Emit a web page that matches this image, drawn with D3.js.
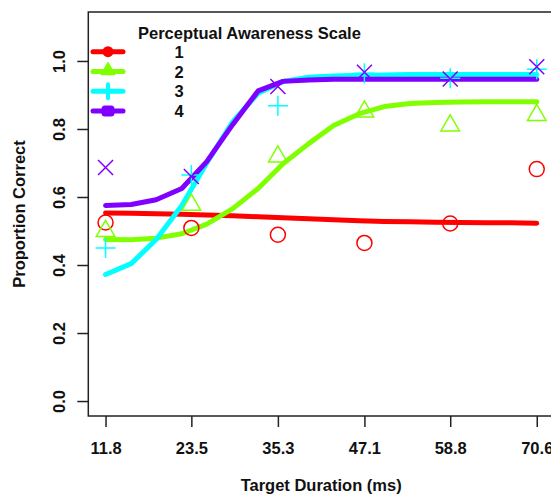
<!DOCTYPE html>
<html>
<head>
<meta charset="utf-8">
<script src="https://cdn.jsdelivr.net/npm/d3@7"></script>
<style>
  html, body { margin: 0; padding: 0; background: #fff; }
  svg { display: block; }
  text { font-family: "Liberation Sans", Arial, sans-serif; font-weight: bold; fill: #111; }
</style>
</head>
<body>
<script>
// ---- data ----
const durations = [11.8, 23.5, 35.3, 47.1, 58.8, 70.6];
const tickLabels = ["11.8", "23.5", "35.3", "47.1", "58.8", "70.6"];
const yTicks = [0.0, 0.2, 0.4, 0.6, 0.8, 1.0];
const pasLevels = ["1", "2", "3", "4"];
const colors = ["#FF0000", "#80FF00", "#00FFFF", "#8000FF"];

// observed proportions
const obs1 = [0.525, 0.509, 0.489, 0.465, 0.522, 0.682];
const obs2 = [0.500, 0.577, 0.719, 0.851, 0.810, 0.841];
const obs3 = [0.450, 0.665, 0.868, 0.964, 0.949, 0.976];
const obs4 = [0.687, 0.660, 0.925, 0.967, 0.947, 0.983];

// fitted curves
const fitX = [11.8, 15.3, 18.7, 22.2, 25.6, 29.1, 32.6, 36.0, 39.5, 42.9, 46.4, 49.8, 53.3, 56.8, 60.2, 63.7, 67.1, 70.6];
const fit1 = [0.553, 0.552, 0.551, 0.549, 0.547, 0.545, 0.542, 0.539, 0.536, 0.533, 0.530, 0.528, 0.527, 0.526, 0.525, 0.524, 0.524, 0.523];
const fit2 = [0.475, 0.474, 0.479, 0.492, 0.520, 0.565, 0.625, 0.698, 0.757, 0.810, 0.845, 0.866, 0.875, 0.878, 0.879, 0.880, 0.880, 0.880];
const fit3 = [0.372, 0.404, 0.475, 0.575, 0.700, 0.820, 0.905, 0.940, 0.952, 0.956, 0.958, 0.959, 0.960, 0.960, 0.960, 0.960, 0.960, 0.960];
const fit4 = [0.575, 0.578, 0.592, 0.625, 0.704, 0.812, 0.912, 0.940, 0.944, 0.946, 0.946, 0.946, 0.946, 0.946, 0.946, 0.946, 0.946, 0.946];

const W = 551, H = 496;
const box = { left: 88.3, right: 554, top: 12, bottom: 416 };
const step = 11.76;
const FS = "16.5px";

const svg = d3.select("body").append("svg").attr("width", W).attr("height", H);

const x = d3.scaleLinear()
  .domain([durations[0] - 0.2 * step, durations[5] + 0.2 * step])
  .range([box.left, box.right]);
const y = d3.scaleLinear()
  .domain([-0.044, 1.144])
  .range([box.bottom, box.top]);

// box
svg.append("rect")
  .attr("x", box.left).attr("y", box.top)
  .attr("width", box.right - box.left).attr("height", box.bottom - box.top)
  .attr("fill", "none").attr("stroke", "#222").attr("stroke-width", 1.5);

// x axis
const xAxis = d3.axisBottom(x).tickValues(durations)
  .tickFormat((d, i) => tickLabels[i]).tickSize(11).tickPadding(15);
const gx = svg.append("g").attr("transform", `translate(0,${box.bottom})`).call(xAxis);
gx.select(".domain").remove();
gx.selectAll(".tick line").attr("stroke", "#222").attr("stroke-width", 1.5);
gx.selectAll(".tick text").style("font-size", FS).style("font-family", "Liberation Sans, Arial, sans-serif").style("font-weight", "bold").attr("fill", "#111");

// y axis
const yAxis = d3.axisLeft(y).tickValues(yTicks).tickFormat(d3.format(".1f")).tickSize(11).tickPadding(0);
const gy = svg.append("g").attr("transform", `translate(${box.left},0)`).call(yAxis);
gy.select(".domain").remove();
gy.selectAll(".tick line").attr("stroke", "#222").attr("stroke-width", 1.5);
gy.selectAll(".tick text")
  .attr("x", 0).attr("dy", null)
  .attr("transform", "translate(-23,0) rotate(-90)")
  .attr("text-anchor", "middle")
  .attr("y", 0)
  .style("font-size", FS).style("font-family", "Liberation Sans, Arial, sans-serif").style("font-weight", "bold").attr("fill", "#111");

// axis titles
svg.append("text")
  .attr("x", (box.left + box.right) / 2).attr("y", 491)
  .attr("text-anchor", "middle").style("font-size", FS)
  .text("Target Duration (ms)");
svg.append("text")
  .attr("transform", `translate(25,${(box.top + box.bottom) / 2}) rotate(-90)`)
  .attr("text-anchor", "middle").style("font-size", FS)
  .text("Proportion Correct");

// fitted lines
const fits = [fit1, fit2, fit3, fit4];
const line = d3.line().x((d, i) => x(fitX[i])).y(d => y(d));
const plotG = svg.append("g");
[0, 1, 2, 3].forEach(k => {
  plotG.append("path").datum(fits[k])
    .attr("d", line)
    .attr("fill", "none").attr("stroke", colors[k])
    .attr("stroke-width", 5).attr("stroke-linejoin", "round").attr("stroke-linecap", "round");
});

// observed points
const sw = 1.5;
plotG.selectAll(".p1").data(obs1).enter().append("circle")
  .attr("cx", (d, i) => x(durations[i])).attr("cy", d => y(d)).attr("r", 7.5)
  .attr("fill", "none").attr("stroke", colors[0]).attr("stroke-width", sw);
const tri = d3.symbol().type(d3.symbolTriangle).size(150);
plotG.selectAll(".p2").data(obs2).enter().append("path")
  .attr("d", tri)
  .attr("transform", (d, i) => `translate(${x(durations[i])},${y(d)})`)
  .attr("fill", "none").attr("stroke", colors[1]).attr("stroke-width", sw);
const plusPath = "M-10,0H10M0,-10V10";
plotG.selectAll(".p3").data(obs3).enter().append("path")
  .attr("d", plusPath)
  .attr("transform", (d, i) => `translate(${x(durations[i])},${y(d)})`)
  .attr("fill", "none").attr("stroke", colors[2]).attr("stroke-width", sw);
const crossPath = "M-7.5,-7.5L7.5,7.5M-7.5,7.5L7.5,-7.5";
plotG.selectAll(".p4").data(obs4).enter().append("path")
  .attr("d", crossPath)
  .attr("transform", (d, i) => `translate(${x(durations[i])},${y(d)})`)
  .attr("fill", "none").attr("stroke", colors[3]).attr("stroke-width", sw);

// legend
const lg = svg.append("g");
lg.append("text").attr("x", 138).attr("y", 38.5).style("font-size", FS)
  .text("Perceptual Awareness Scale");
pasLevels.forEach((lab, i) => {
  const cy = 51.7 + 19.8 * i;
  lg.append("line").attr("x1", 93).attr("x2", 123).attr("y1", cy).attr("y2", cy)
    .attr("stroke", colors[i]).attr("stroke-width", 5).attr("stroke-linecap", "round");
  if (i === 0) {
    lg.append("circle").attr("cx", 108).attr("cy", cy).attr("r", 5.5).attr("fill", colors[i]);
  } else if (i === 1) {
    lg.append("path").attr("d", d3.symbol().type(d3.symbolTriangle).size(70))
      .attr("transform", `translate(108,${cy - 1})`).attr("fill", colors[i])
      .attr("stroke", colors[i]).attr("stroke-width", 2).attr("stroke-linejoin", "round");
  } else if (i === 2) {
    lg.append("path").attr("d", "M-7,0H7M0,-7V7")
      .attr("transform", `translate(108,${cy})`).attr("stroke", colors[i])
      .attr("stroke-width", 4).attr("stroke-linecap", "round");
  } else {
    lg.append("rect").attr("x", 103).attr("y", cy - 4).attr("width", 10).attr("height", 8)
      .attr("rx", 2).attr("fill", colors[i]).attr("stroke", colors[i]).attr("stroke-width", 3)
      .attr("stroke-linejoin", "round");
  }
  lg.append("text").attr("x", 179).attr("y", cy + 6).attr("text-anchor", "middle")
    .style("font-size", FS).text(lab);
});
</script>
</body>
</html>
